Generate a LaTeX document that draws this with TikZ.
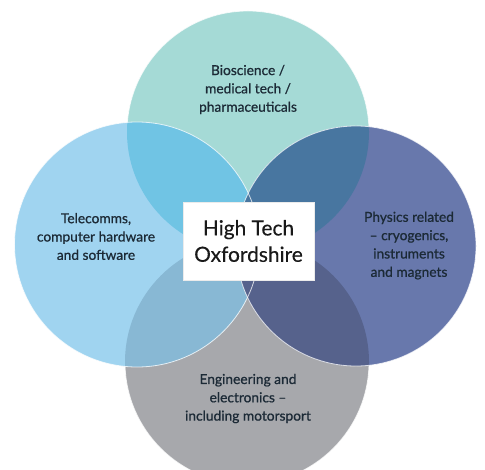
\documentclass[tikz,border=0pt]{standalone}
\usepackage{fontspec}
\setmainfont{Lato}
\newfontfamily\lblfont{Lato}[FakeBold=0.8]
\newfontfamily\hubfont{Lato}[FakeBold=0.3]
\definecolor{ctop}{HTML}{A5DAD6}
\definecolor{cleft}{HTML}{A0D4F0}
\definecolor{cright}{HTML}{6878AC}
\definecolor{cbot}{HTML}{A7A8AC}
\definecolor{ctl}{HTML}{70C4E4}
\definecolor{ctr}{HTML}{4876A0}
\definecolor{clb}{HTML}{88B8D4}
\definecolor{crb}{HTML}{56628C}
\definecolor{ctext}{HTML}{1C2A36}
\tikzset{
  rim/.style={draw=white, draw opacity=0.75, line width=0.8bp},
  lbl/.style={align=center, text=ctext, inner sep=0pt, font=\lblfont\fontsize{13.8}{18.4}\selectfont},
  hub/.style={fill=white, draw=black!8, line width=0.4bp, minimum width=131bp, minimum height=78bp, inner sep=0pt, align=center, text=black!90, font=\hubfont\fontsize{21}{26.5}\selectfont}
}
\begin{document}
\begin{tikzpicture}[x=1bp,y=-1bp]
\useasboundingbox (0,0) rectangle (485,470);
\clip (0,0) rectangle (485,470);
\fill[white] (0,0) rectangle (485,470);
\coordinate (T) at (248,132);
\coordinate (L) at (137,244.5);
\coordinate (R) at (356,246);
\coordinate (B) at (247,362);
% base circles
\fill[ctop] (T) circle[radius=121bp];
\draw[rim] (T) circle[radius=121bp];
\fill[cbot] (B) circle[radius=122bp];
\draw[rim] (B) circle[radius=122bp];
\fill[cleft] (L) circle[radius=122.5bp];
\fill[cright] (R) circle[radius=120bp];
% overlaps
\begin{scope}
  \clip (L) circle[radius=122.5bp];
  \fill[ctl] (T) circle[radius=121bp];
  \fill[clb] (B) circle[radius=122bp];
\end{scope}
\begin{scope}
  \clip (R) circle[radius=120bp];
  \fill[ctr] (T) circle[radius=121bp];
  \fill[crb] (B) circle[radius=122bp];
\end{scope}
\draw[rim] (L) circle[radius=122.5bp];
\draw[rim] (R) circle[radius=120bp];
% labels
\node[lbl] (bio) at (248,89.5) {Bioscience /\\medical tech /\\pharmaceuticals};
\node[lbl] (tel) at (96,236.5) {Telecomms,\\computer hardware\\and software};
\node[lbl] (phy) at (409,245.5) {Physics related\\– cryogenics,\\instruments\\and magnets};
\node[lbl] (eng) at (248,398.5) {Engineering and\\electronics –\\including motorsport};
\node[hub] (hub) at (248.5,241) {High Tech\\Oxfordshire};
\end{tikzpicture}
\end{document}
